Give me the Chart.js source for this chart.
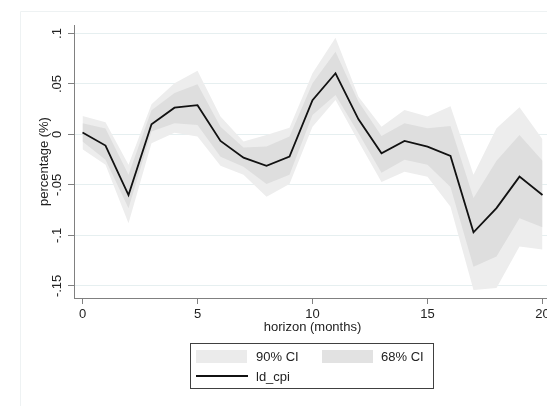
<!DOCTYPE html>
<html>
<head>
<meta charset="utf-8">
<script src="https://cdn.jsdelivr.net/npm/chart.js@4"></script>
<style>
  html, body { margin: 0; padding: 0; background: #fff; overflow: hidden; }
  #wrap { position: relative; width: 547px; height: 406px; overflow: hidden; }
  #irf { position: absolute; left: 0; top: 0; }
  #legenda {
    position: absolute; left: 190px; top: 343px; width: 242px; height: 44px;
    border: 1px solid #404040; font: 13px "Liberation Sans", Arial, sans-serif; color: #222;
  }
  #legenda .sw { position: absolute; width: 51px; height: 13px; }
  #legenda .txt { position: absolute; line-height: 15px; }
  #legenda .ln { position: absolute; width: 52px; height: 2px; background: #111; }
</style>
</head>
<body>
<div id="wrap">
  <canvas id="irf" width="556" height="406"></canvas>
  <div id="legenda">
    <div class="sw" style="left:5px;top:6px;background:#ebebeb"></div>
    <div class="txt" style="left:65px;top:5px">90% CI</div>
    <div class="sw" style="left:131px;top:6px;background:#e2e2e2"></div>
    <div class="txt" style="left:190px;top:5px">68% CI</div>
    <div class="ln" style="left:5px;top:31px"></div>
    <div class="txt" style="left:65px;top:25px">ld_cpi</div>
  </div>
</div>
<script>
// horizonte em meses
const horizon = [0, 1, 2, 3, 4, 5, 6, 7, 8, 9, 10, 11, 12, 13, 14, 15, 16, 17, 18, 19, 20];
// resposta do ld_cpi
const ldCpi = [0.002, -0.011, -0.060, 0.010, 0.0265, 0.029, -0.0064, -0.023, -0.031, -0.022, 0.034,
  0.0606, 0.015, -0.0186, -0.0064, -0.012, -0.0213, -0.097, -0.073, -0.0418, -0.060];
// bandas de 68%
const hi68 = [0.011, 0.006, -0.040, 0.024, 0.041, 0.0497, 0.0077, -0.013, -0.012, -0.002, 0.0507,
  0.082, 0.0325, -0.0015, 0.011, 0.0061, 0.0084, -0.063, -0.026, -0.0005, -0.026];
const lo68 = [-0.007, -0.025, -0.073, 0.003, 0.011, 0.0094, -0.022, -0.032, -0.049, -0.040, 0.0193,
  0.039, 0.0012, -0.038, -0.025, -0.030, -0.052, -0.131, -0.121, -0.083, -0.092];
// bandas de 90%
const hi90 = [0.0183, 0.012, -0.030, 0.030, 0.0507, 0.063, 0.0177, -0.0071, -0.0005, 0.0067, 0.0606,
  0.0958, 0.0374, 0.0077, 0.0243, 0.0177, 0.028, -0.040, 0.0061, 0.027, -0.0048];
const lo90 = [-0.0147, -0.030, -0.088, -0.0087, 0.0018, -0.002, -0.031, -0.040, -0.0616, -0.049, 0.0077,
  0.034, -0.007, -0.047, -0.037, -0.042, -0.0715, -0.154, -0.152, -0.111, -0.114];
// marcas dos eixos
const xTicks = [0, 5, 10, 15, 20];
const yTicks = [0.1, 0.05, 0, -0.05, -0.1, -0.15];
const yTickLabels = ['.1', '.05', '0', '-.05', '-.1', '-.15'];

const pts = arr => arr.map((v, i) => ({ x: horizon[i], y: v }));

const fonte = { family: '"Liberation Sans", Arial, sans-serif', size: 13 };

// moldura clarinha da plotregion (so topo e esquerda aparecem)
const moldura = {
  id: 'moldura',
  beforeDraw(chart) {
    const ctx = chart.ctx;
    ctx.save();
    ctx.strokeStyle = '#eef2f3';
    ctx.lineWidth = 1;
    ctx.beginPath();
    ctx.moveTo(20.5, 406);
    ctx.lineTo(20.5, 11.5);
    ctx.lineTo(556, 11.5);
    ctx.stroke();
    ctx.restore();
  }
};

const ctx = document.getElementById('irf').getContext('2d');
const myChart = new Chart(ctx, {
  type: 'line',
  data: {
    datasets: [
      { label: 'ld_cpi', data: pts(ldCpi), borderColor: '#111', borderWidth: 1.8, pointRadius: 0, fill: false, tension: 0 },
      { label: 'lo68', data: pts(lo68), borderWidth: 0, pointRadius: 0, fill: false },
      { label: '68% CI', data: pts(hi68), borderWidth: 0, pointRadius: 0, fill: '-1', backgroundColor: '#dedede' },
      { label: 'lo90', data: pts(lo90), borderWidth: 0, pointRadius: 0, fill: false },
      { label: '90% CI', data: pts(hi90), borderWidth: 0, pointRadius: 0, fill: '-1', backgroundColor: '#ededed' },
    ],
  },
  options: {
    responsive: false,
    animation: false,
    layout: { padding: { left: 20, top: 25, right: 5, bottom: 66 } },
    plugins: { legend: { display: false }, tooltip: { enabled: false } },
    scales: {
      x: {
        type: 'linear',
        min: -0.37,
        max: 20.37,
        afterBuildTicks: axis => { axis.ticks = xTicks.map(v => ({ value: v })); },
        afterFit: axis => { axis.height = 42; },
        grid: { drawOnChartArea: false, tickLength: 6, tickColor: '#808080' },
        border: { color: '#808080', width: 1 },
        ticks: { font: fonte, color: '#222', padding: 3, maxRotation: 0 },
        title: { display: true, text: 'horizon (months)', font: fonte, color: '#222', padding: { top: 0, bottom: 5 } },
      },
      y: {
        min: -0.162,
        max: 0.1084,
        afterBuildTicks: axis => { axis.ticks = yTicks.map(v => ({ value: v })); },
        afterFit: axis => { axis.width = 54; },
        grid: { color: '#e6eff0', tickLength: 6, tickColor: '#808080' },
        border: { color: '#808080', width: 1 },
        ticks: {
          font: fonte, color: '#222', minRotation: 90, maxRotation: 90, crossAlign: 'center', padding: -1,
          callback: v => yTickLabels[yTicks.findIndex(t => Math.abs(t - v) < 1e-9)],
        },
        title: { display: true, text: 'percentage (%)', font: fonte, color: '#222', padding: { top: 17, bottom: 0 } },
      },
    },
  },
  plugins: [moldura],
});
</script>
</body>
</html>
